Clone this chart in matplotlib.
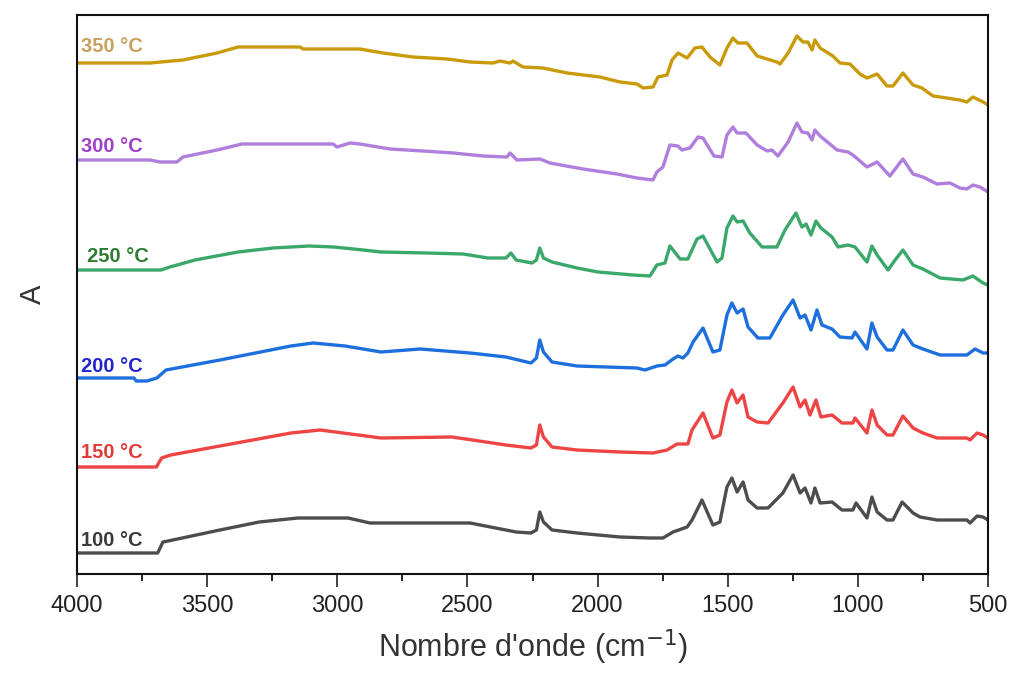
import matplotlib
matplotlib.use("Agg")
import matplotlib.pyplot as plt
from matplotlib.ticker import MultipleLocator

plt.rcParams['font.family'] = ['Liberation Sans', 'DejaVu Sans']

# ---- data (wavenumber in cm-1, absorbance in arbitrary stacked units) ----
wn_100 = [4000, 3690, 3670, 3650, 3451, 3300, 3151, 2959, 2874, 2490, 2313, 2256, 2235, 2222, 2208, 2175,
          2079, 1914, 1800, 1749, 1710, 1656, 1637, 1599, 1557, 1530, 1503, 1484, 1464, 1441, 1422, 1387,
          1345, 1288, 1249, 1222, 1203, 1180, 1165, 1145, 1099, 1061, 1019, 1007, 965, 946, 926, 888, 865,
          830, 788, 761, 696, 581, 569, 542, 519, 500]
a_100 = [21, 21, 32, 33, 44, 52, 56, 56, 51, 51, 42, 41, 44, 62, 52, 44,
         41, 37, 36, 36, 42, 47, 54, 74, 49, 52, 87, 96, 82, 92, 74, 66,
         66, 81, 99, 81, 86, 71, 86, 71, 72, 64, 64, 71, 56, 77, 62, 54, 54,
         72, 61, 57, 54, 54, 51, 58, 57, 54]

wn_150 = [4000, 3695, 3675, 3640, 3178, 3066, 2832, 2559, 2352, 2256, 2235, 2222, 2208, 2175, 2079, 1914,
          1787, 1733, 1695, 1653, 1637, 1595, 1557, 1530, 1503, 1484, 1464, 1441, 1422, 1387, 1345, 1288,
          1249, 1222, 1203, 1184, 1161, 1142, 1099, 1061, 1019, 1011, 965, 946, 926, 888, 865, 827, 788,
          750, 696, 581, 569, 542, 519, 500]
a_150 = [107, 107, 116, 119, 141, 144, 136, 137, 129, 126, 129, 149, 137, 127, 124, 122,
         121, 124, 130, 130, 144, 161, 136, 139, 172, 184, 171, 179, 157, 152, 151, 171,
         187, 167, 174, 159, 174, 157, 159, 151, 151, 156, 141, 164, 149, 139, 139, 158, 146,
         141, 136, 136, 134, 141, 139, 136]

wn_200 = [4000, 3781, 3773, 3731, 3693, 3658, 3451, 3178, 3093, 2970, 2832, 2682, 2490, 2352, 2256, 2235,
          2222, 2208, 2175, 2079, 1849, 1818, 1772, 1741, 1710, 1691, 1672, 1653, 1633, 1595, 1557, 1530,
          1503, 1484, 1464, 1441, 1422, 1384, 1338, 1288, 1249, 1222, 1203, 1180, 1157, 1138, 1099, 1069,
          1022, 1011, 965, 946, 926, 888, 865, 827, 788, 750, 684, 581, 550, 519, 500]
a_200 = [196, 196, 193, 193, 196, 204, 214, 228, 231, 228, 222, 225, 221, 217, 211, 216,
         234, 222, 212, 208, 206, 204, 208, 209, 215, 218, 216, 221, 232, 246, 222, 224,
         259, 271, 261, 265, 247, 236, 236, 259, 274, 256, 259, 244, 264, 249, 245, 237,
         236, 242, 225, 251, 237, 224, 224, 244, 229, 225, 219, 219, 225, 221, 221]

wn_250 = [4000, 3677, 3643, 3547, 3381, 3247, 3109, 3013, 2901, 2832, 2655, 2517, 2421, 2352, 2333, 2313,
          2252, 2235, 2222, 2208, 2175, 2079, 1998, 1864, 1799, 1772, 1741, 1722, 1683, 1653, 1618, 1595,
          1541, 1522, 1503, 1480, 1464, 1441, 1415, 1368, 1311, 1280, 1238, 1215, 1199, 1180, 1161, 1142,
          1099, 1076, 1038, 1011, 965, 946, 926, 884, 857, 827, 788, 750, 684, 596, 558, 519, 500]
a_250 = [304, 304, 307, 314, 322, 326, 328, 327, 324, 322, 321, 320, 316, 316, 321, 314,
         311, 314, 326, 316, 312, 306, 302, 299, 298, 309, 311, 328, 315, 315, 335, 338,
         312, 316, 346, 358, 352, 353, 341, 327, 327, 344, 361, 347, 350, 339, 353, 346,
         337, 327, 329, 327, 312, 328, 319, 304, 314, 324, 309, 305, 296, 294, 298, 291, 289]

wn_300 = [4000, 3720, 3681, 3616, 3593, 3462, 3366, 3016, 3001, 2951, 2913, 2797, 2671, 2555, 2440, 2348,
          2336, 2310, 2221, 2183, 2056, 1925, 1849, 1787, 1772, 1749, 1722, 1691, 1676, 1645, 1614, 1595,
          1553, 1522, 1503, 1480, 1464, 1430, 1387, 1349, 1330, 1307, 1268, 1234, 1215, 1192, 1176, 1165,
          1145, 1080, 1038, 1019, 965, 926, 877, 827, 788, 750, 696, 646, 608, 581, 558, 531, 500]
a_300 = [414, 414, 412, 412, 417, 424, 430, 430, 427, 431, 430, 425, 423, 421, 418, 417,
         421, 414, 415, 411, 405, 400, 396, 394, 402, 407, 429, 428, 424, 426, 437, 436,
         418, 417, 439, 447, 441, 441, 429, 423, 424, 418, 432, 451, 442, 441, 434, 444,
         438, 424, 422, 419, 407, 412, 398, 415, 400, 397, 390, 391, 386, 385, 389, 387, 382]

wn_350 = [4000, 3720, 3593, 3462, 3381, 3143, 3132, 2913, 2824, 2709, 2578, 2490, 2402, 2375, 2336, 2325,
          2287, 2210, 2117, 1991, 1914, 1849, 1825, 1787, 1768, 1733, 1714, 1691, 1656, 1626, 1599, 1568,
          1530, 1503, 1480, 1461, 1426, 1387, 1349, 1311, 1299, 1268, 1234, 1211, 1192, 1176, 1165, 1145,
          1096, 1069, 1030, 992, 965, 926, 888, 865, 827, 788, 754, 711, 658, 608, 581, 558, 519, 500]
a_350 = [511, 511, 514, 521, 527, 527, 525, 525, 521, 517, 515, 512, 511, 513, 511, 513,
         507, 506, 501, 497, 492, 490, 486, 487, 497, 499, 514, 521, 516, 526, 527, 517,
         509, 526, 536, 531, 531, 518, 515, 512, 510, 521, 538, 532, 532, 524, 534, 526,
         518, 511, 510, 500, 496, 500, 488, 488, 501, 489, 486, 478, 476, 474, 472, 477, 472, 469]

labels = ["100 °C", "150 °C", "200 °C", "250 °C", "300 °C", "350 °C"]
label_y = [34, 121, 208, 317, 427, 527]
label_x = [3985, 3985, 3985, 3960, 3985, 3985]

# ---- styles ----
line_colors = ["#4d4d4d", "#ee4444", "#1c6fdc", "#3aa86a", "#b07edc", "#c99a0a"]
text_colors = ["#3a3a3a", "#e03a3a", "#2424cc", "#2e7d32", "#a040c8", "#c8a060"]

series = [(wn_100, a_100), (wn_150, a_150), (wn_200, a_200),
          (wn_250, a_250), (wn_300, a_300), (wn_350, a_350)]

fig = plt.figure(figsize=(10.11, 6.73), dpi=100)
ax = fig.add_axes([77 / 1011, 99 / 673, 911 / 1011, 559 / 673])

for (wn, a), lc in zip(series, line_colors):
    ax.plot(wn, a, color=lc, lw=2.4, solid_joinstyle='round')

for lab, lx, ly, tc in zip(labels, label_x, label_y, text_colors):
    ax.text(lx, ly, lab, color=tc, fontsize=14.5, fontweight='bold', ha='left', va='center')

ax.set_xlim(4000, 500)
ax.set_ylim(0, 559)
ax.xaxis.set_major_locator(MultipleLocator(500))
ax.xaxis.set_minor_locator(MultipleLocator(250))
ax.set_yticks([])
ax.tick_params(axis='x', which='major', direction='out', length=9, width=1.2,
               labelsize=17, colors='#222222', pad=6)
ax.tick_params(axis='x', which='minor', direction='out', length=5, width=1.2)
for s in ax.spines.values():
    s.set_linewidth(1.5)
    s.set_color('#111111')

ax.set_xlabel("Nombre d'onde (cm$^{-1}$)", fontsize=22, color='#333333', labelpad=8)
ax.set_ylabel("A", fontsize=21, color='#333333', labelpad=22)

fig.savefig("out.png", dpi=100)
